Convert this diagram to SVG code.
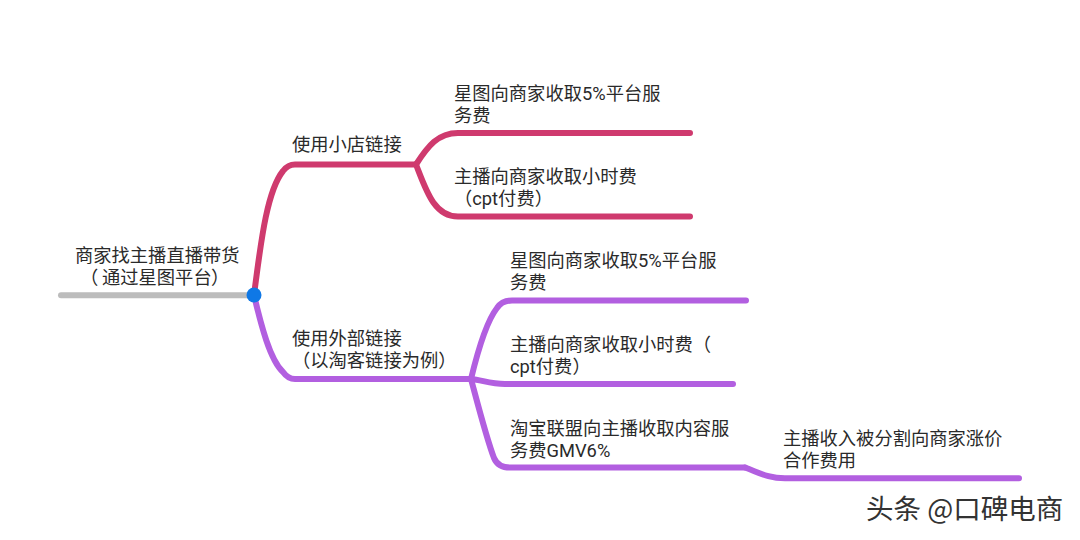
<svg xmlns="http://www.w3.org/2000/svg" width="1080" height="540" viewBox="0 0 1080 540">
<style>
.t{font-family:"Roboto","Noto Sans CJK SC","Noto Sans",sans-serif;font-size:18.3px;fill:#2a2a2a}
.w{font-family:"Noto Sans CJK SC","Noto Sans",sans-serif;font-size:27.5px;fill:#333}
.c{fill:none;stroke-width:6;stroke-linecap:round;stroke-linejoin:round}
.p{stroke:#cf3a6e}
.v{stroke:#b25fe0}
.g{stroke:#bcbcbc}
</style>
<rect width="1080" height="540" fill="#fff"/>
<g id="connectors">
<path class="c g" d="M61 295.300H254"/>
<path class="c p" d="M254 295C260 250 266 192 283 171Q288 164.500 295 164.500H416"/>
<path class="c p" d="M416 164.500C428 146 438 133 458 133H690"/>
<path class="c p" d="M416 164.500C426 190 434 216.500 458 216.500H690"/>
<path class="c v" d="M254 295C261 325 270 360 283 372Q288 379 295 379H471"/>
<path class="c v" d="M471 379C478 350 486 322 497 308Q502 300.500 512 300.500H746"/>
<path class="c v" d="M471 379C482 380 490 384 505 384H733"/>
<path class="c v" d="M471 379C478 405 487 440 494 458Q498 467.500 510 467.500H745"/>
<path class="c v" d="M745 467.500C760 473 768 478.300 785 478.300H1019"/>
</g>
<g id="root"><text class="t" x="75" y="262">商家找主播直播带货<tspan x="80" y="284">（</tspan><tspan x="102">通过星图平台</tspan><tspan x="211">）</tspan></text><circle cx="254" cy="295" r="7.500" fill="#0f78e6"/></g>
<g id="n1"><text class="t" x="292" y="151">使用小店链接</text></g>
<g id="n2"><text class="t" x="292" y="345">使用外部链接<tspan x="292" y="367">（以淘客链接为例）</tspan></text></g>
<g id="n11"><text class="t" x="454" y="100">星图向商家收取5%平台服<tspan x="454" y="122">务费</tspan></text></g>
<g id="n12"><text class="t" x="454" y="183">主播向商家收取小时费<tspan x="454" y="205">（cpt付费）</tspan></text></g>
<g id="n21"><text class="t" x="510" y="267">星图向商家收取5%平台服<tspan x="510" y="289">务费</tspan></text></g>
<g id="n22"><text class="t" x="510" y="351">主播向商家收取小时费（<tspan x="510" y="373">cpt付费）</tspan></text></g>
<g id="n23"><text class="t" x="510" y="435">淘宝联盟向主播收取内容服<tspan x="510" y="457">务费GMV6%</tspan></text></g>
<g id="n231"><text class="t" x="783" y="445">主播收入被分割向商家涨价<tspan x="783" y="467">合作费用</tspan></text></g>
<text class="w" x="866" y="519">头条 @口碑电商</text>
</svg>
